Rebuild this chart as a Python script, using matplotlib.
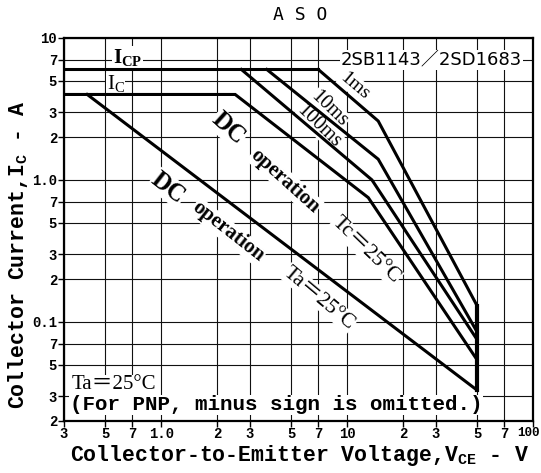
import matplotlib
matplotlib.use("Agg")
import matplotlib.pyplot as plt
from matplotlib.transforms import ScaledTranslation

# ---- data (V_CE in V, I_C in A) ----
icp_v = [0.3, 7.0]
icp_a = [6.0, 6.0]

ms1_v = [7.0, 14.7, 50.0]
ms1_a = [6.0, 2.6, 0.13]

ms10_v = [3.7, 14.7, 50.0]
ms10_a = [6.0, 1.4, 0.085]

ms100_v = [2.7, 13.6, 50.0]
ms100_a = [6.0, 1.0, 0.075]

dc_tc_v = [0.3, 2.5, 13.0, 50.0]
dc_tc_a = [4.0, 4.0, 0.75, 0.054]

dc_ta_v = [0.4, 50.0]
dc_ta_a = [4.0, 0.033]

vceo_v = [50.0, 50.0]
vceo_a = [0.13, 0.033]

x_ticks = [0.3, 0.5, 0.7, 1, 2, 3, 5, 7, 10, 20, 30, 50, 70, 100]
x_labels = ["3", "5", "7", "1.0", "2", "3", "5", "7", "10", "2", "3", "5", "7", "100"]
y_ticks = [0.02, 0.03, 0.05, 0.07, 0.1, 0.2, 0.3, 0.5, 0.7, 1, 2, 3, 5, 7, 10]
y_labels = ["2", "3", "5", "7", "0.1", "2", "3", "5", "7", "1.0", "2", "3", "5", "7", "10"]

MONO = "Liberation Mono"
SERIF = ["Liberation Serif", "Noto Sans CJK JP"]
WHITE = dict(facecolor="white", edgecolor="none", pad=0.5)

fig = plt.figure(figsize=(5.41, 4.73), dpi=100)
ax = fig.add_axes([64 / 541, 1 - 421 / 473, 469 / 541, 383 / 473])
ax.set_xscale("log")
ax.set_yscale("log")
ax.set_xlim(0.3, 100)
ax.set_ylim(0.02, 10)

ax.set_xticks(x_ticks)
ax.set_xticklabels(x_labels)
ax.set_yticks(y_ticks)
ax.set_yticklabels(y_labels)
ax.minorticks_off()
ax.tick_params(direction="out", length=4, width=1, pad=1, labelsize=10)
ax.tick_params(axis="x", pad=0)
for lab in ax.get_xticklabels() + ax.get_yticklabels():
    lab.set_fontfamily(MONO)
    lab.set_fontweight("bold")
# "100" sits at the right corner, keep it inside the picture
last = ax.get_xticklabels()[-1]
last.set_fontsize(9)
last.set_transform(last.get_transform() + ScaledTranslation(-3 / 72, 0, fig.dpi_scale_trans))
ax.grid(True, color="#111111", lw=0.8)
ax.set_axisbelow(True)
for sp in ax.spines.values():
    sp.set_linewidth(1.6)

# ---- curves ----
kw = dict(color="black", lw=2.2, solid_joinstyle="miter", zorder=4)
ax.plot(icp_v, icp_a, **kw)
ax.plot(ms1_v, ms1_a, **kw)
ax.plot(ms10_v, ms10_a, **kw)
ax.plot(ms100_v, ms100_a, **kw)
ax.plot(dc_tc_v, dc_tc_a, **kw)
ax.plot(dc_ta_v, dc_ta_a, **kw)
ax.plot(vceo_v, vceo_a, color="black", lw=3, zorder=4)

# ---- labels on the chart ----
def diag(x, y, s, rot, size, bold=False):
    ax.text(x, y, s, fontsize=size, family=SERIF, fontweight="bold" if bold else "normal",
            rotation=rot, rotation_mode="anchor", ha="center", va="center",
            bbox=WHITE, zorder=3)

ax.text(0.66, 7.3, r"$\mathregular{I_{CP}}$", fontsize=15, family=SERIF, fontweight="bold",
        ha="center", va="center", bbox=WHITE, zorder=3)
ax.text(0.57, 4.75, r"$\mathregular{I_{C}}$", fontsize=15, family=SERIF,
        ha="center", va="center", bbox=WHITE, zorder=3)

diag(11.0, 4.6, "1ms", -40, 14)
diag(8.0, 3.16, "10ms", -44, 14.5)
diag(7.07, 2.37, "100ms", -44, 14.5)

diag(2.29, 2.30, "DC", -42, 18, bold=True)
diag(4.64, 0.98, "operation", -42, 15, bold=True)
diag(12.6, 0.32, "Tc＝25°C", -44, 15.5)

diag(1.09, 0.88, "DC", -38, 18, bold=True)
diag(2.29, 0.43, "operation", -38, 15, bold=True)
diag(7.08, 0.147, "Ta＝25°C", -40, 15.5)

ax.text(0.783, 0.943, "2SB1143／2SD1683", transform=ax.transAxes, fontsize=13,
        family=["DejaVu Sans", "Noto Sans CJK JP"], ha="center", va="center",
        bbox=WHITE, zorder=3)

ax.text(0.017, 0.094, "Ta＝25°C", transform=ax.transAxes, fontsize=15, family=SERIF,
        ha="left", va="center", bbox=WHITE, zorder=3)
ax.text(0.012, 0.042, "(For PNP, minus sign is omitted.)", transform=ax.transAxes,
        fontsize=15, family=MONO, fontweight="bold", ha="left", va="center",
        bbox=WHITE, zorder=3)

# ---- axis titles ----
fig.text(0.555, 0.968, "A S O", fontsize=13, family="DejaVu Sans Mono",
         ha="center", va="center")
ax.set_xlabel(r"Collector-to-Emitter Voltage,V$\mathregular{_{CE}}$ - V", fontsize=15.5,
              family=MONO, fontweight="bold", va="center")
ax.set_ylabel(r"Collector Current,I$\mathregular{_C}$ - A", fontsize=15.5,
              family=MONO, fontweight="bold", va="center")
ax.xaxis.set_label_coords(0.503, -0.09)
ax.yaxis.set_label_coords(-0.098, 0.433)

fig.savefig("out.png", dpi=100)
